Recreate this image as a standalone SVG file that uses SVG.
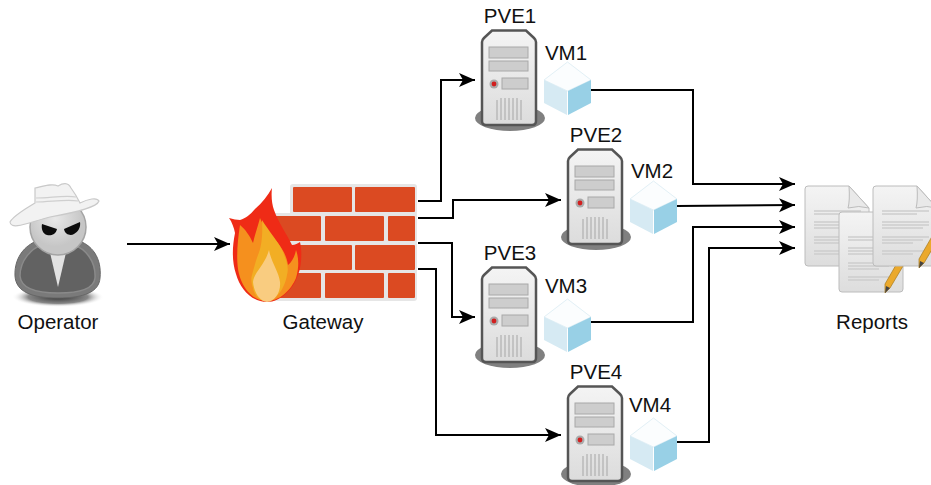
<svg xmlns="http://www.w3.org/2000/svg" xmlns:xlink="http://www.w3.org/1999/xlink" width="931" height="485" viewBox="0 0 931 485">
<style>
text{font-family:"Liberation Sans",Arial,sans-serif;font-size:20.5px;fill:#111;text-anchor:middle}
.c{fill:none;stroke:#000;stroke-width:2;marker-end:url(#ah)}
.b{fill:#db4a22}
.slot{fill:#cdcdcd;stroke:#a8a8a8;stroke-width:1}
.vent{stroke:#b0b0b0;stroke-width:1.200}
.ln{stroke:#cdcdcd;stroke-width:1.300}
.doc{fill:url(#pg);stroke:#bcbcbc;stroke-width:1}
</style>
<defs>
<marker id="ah" markerUnits="userSpaceOnUse" markerWidth="18" markerHeight="16" refX="16" refY="8" orient="auto"><path d="M0 1L16 8L0 15L4 8Z" fill="#000"/></marker>
<linearGradient id="sg" x1="0" y1="0" x2="0" y2="1"><stop offset="0" stop-color="#f4f4f4"/><stop offset="1" stop-color="#dcdcdc"/></linearGradient>
<linearGradient id="pg" x1="0" y1="0" x2="0" y2="1"><stop offset="0" stop-color="#f4f4f4"/><stop offset="1" stop-color="#dddddd"/></linearGradient>
<radialGradient id="shad"><stop offset="0" stop-color="#333"/><stop offset="0.65" stop-color="#888"/><stop offset="1" stop-color="#fff" stop-opacity="0"/></radialGradient>
<radialGradient id="face" cx="0.45" cy="0.35"><stop offset="0" stop-color="#e8e8e8"/><stop offset="1" stop-color="#c6c6c6"/></radialGradient>
<g id="srv">
<ellipse cx="510" cy="118" rx="35" ry="13" fill="#808080"/>
<path d="M482 42Q482 40 484 38L492 30.500H526L534 38Q536 40 536 42V121Q536 125 532 125H486Q482 125 482 121Z" fill="url(#sg)" stroke="#555" stroke-width="2.500"/>
<rect x="489" y="47" width="39" height="11" class="slot"/>
<rect x="489" y="61" width="39" height="10" class="slot"/>
<rect x="502" y="78" width="26" height="11" class="slot"/>
<circle cx="494" cy="84" r="4.500" fill="#aaa"/><circle cx="494" cy="84" r="2.400" fill="#d21f1f"/>
<path class="vent" d="M497 100V120M501 98V120M505 98V120M509 98V120M513 98V120M517 98V120M521 100V120"/>
</g>
<g id="cube">
<path d="M567.500 62L591 80L567.500 91L544 80Z" fill="#fbfdfe" stroke="#e2f0f6"/>
<path d="M544 80L567 91V115L544 103Z" fill="#d6eaf3"/>
<path d="M568 91L591 80V103L568 115Z" fill="#98d0e6"/>
</g>
<g id="page">
<path class="doc" d="M3 0H44L64 22V77Q64 80 61 80H3Q0 80 0 77V3Q0 0 3 0Z"/>
<path d="M44 0Q45 15 43 22Q54 19 64 22Z" fill="#e9e9e9" stroke="#bcbcbc"/>
<path class="ln" d="M9 25H56M9 28H44M9 36H56M9 39H56M9 42H50M9 51H56M9 54H50M9 57H40M9 65H52M9 68H40"/>
</g>
<g id="pencil">
<path d="M0 26L15 0L21 3L5 30L0 35Z" fill="#eba92c" stroke="#a87a1c" stroke-width="0.700"/>
<path d="M0 35L1 28L5 30Z" fill="#444"/>
</g>
</defs>
<g id="connectors">
<path class="c" d="M127 244H230"/>
<path class="c" d="M418 201H441V80H475"/>
<path class="c" d="M418 218H453V200H561"/>
<path class="c" d="M418 243H452V317H475"/>
<path class="c" d="M418 269H436V435H561"/>
<path class="c" d="M591 90H693V184H795"/>
<path class="c" d="M677 206L795 205"/>
<path class="c" d="M591 322H693V227H795"/>
<path class="c" d="M677 442H709V248H795"/>
</g>
<g id="operator">
<ellipse cx="58" cy="297" rx="46" ry="10" fill="url(#shad)"/>
<path d="M15 276C14 255 28 243 40 240L76 240C92 244 102 258 100 278C99 292 84 298 58 298C32 298 16 292 15 276Z" fill="#7a7a7a" stroke="#666" stroke-width="1"/>
<path d="M20 276C20 260 32 248 42 245L74 245C86 249 96 262 95 278C94 288 80 293 58 293C36 293 21 288 20 276Z" fill="#626262" stroke="#8a8a8a" stroke-width="1.500"/>
<path d="M48 244L58 287L68 244Z" fill="#e2e2e2"/>
<circle cx="58" cy="227" r="28" fill="url(#face)" stroke="#a4a4a4" stroke-width="1.500"/>
<path d="M42 224L57 229C56 235 50 236 47 235C43 234 41 229 42 224ZM80 222L64 229C65 235 71 236 74 234C78 232 81 227 80 222Z" fill="#0c0c0c"/>
<path d="M10 222C14 215 27 208 35 203L35 188C44 186 52 183 58 186C63 183 68 182 71 188C74 192 78 199 80 203C88 199 97 197 99 201C97 208 72 213 50 217C30 222 11 231 10 222Z" fill="#f2f2f2" stroke="#c9c9c9" stroke-width="1.200"/>
<path d="M36 198C50 198 65 195 76 197M36 202C50 202 66 199 78 201" fill="none" stroke="#cfcfcf" stroke-width="1.200"/>
<text x="58" y="329">Operator</text>
</g>
<g id="gateway">
<rect x="290" y="184" width="127" height="117" rx="3" fill="#e6e6e6"/>
<rect x="265" y="213" width="30" height="88" fill="#e6e6e6"/>
<rect class="b" x="293" y="187" width="59" height="25" rx="1"/>
<rect class="b" x="355" y="187" width="60" height="25" rx="1"/>
<rect class="b" x="268" y="216" width="53" height="25" rx="1"/>
<rect class="b" x="325" y="216" width="59" height="25" rx="1"/>
<rect class="b" x="388" y="216" width="27" height="25" rx="1"/>
<rect class="b" x="293" y="245" width="59" height="25" rx="1"/>
<rect class="b" x="355" y="245" width="60" height="25" rx="1"/>
<rect class="b" x="268" y="273" width="53" height="25" rx="1"/>
<rect class="b" x="325" y="273" width="59" height="25" rx="1"/>
<rect class="b" x="388" y="273" width="27" height="25" rx="1"/>
<path d="M272 188C271 196 272 205 274 210C278 222 288 236 292 245C295 245 298 243 300 242C302 250 302 265 298 275C293 289 281 302 267 302C252 302 240 289 236 274C232 262 232 248 235 233C234 228 232 222 229 218C233 219 237 220 240 220C246 218 250 215 255 209C262 203 268 195 272 188Z" fill="#ef2b16"/>
<path d="M260 218C264 228 272 236 278 243C284 251 287 258 288 265C292 262 295 256 296 250C299 258 299 268 296 278C291 290 280 301 267 301C253 301 243 289 239 274C236 262 237 244 240 225C245 229 250 236 253 243C255 234 258 226 260 218Z" fill="#f5901e"/>
<path d="M262 220C268 230 280 244 283 252C287 262 289 268 287 275C285 288 276 301 267 301C258 301 254 294 253 288C250 280 252 275 252 275C254 268 256 260 258 255C261 248 263 238 262 220Z" fill="#f2ae24"/>
<path d="M269 250C271 262 279 272 280 282C281 292 275 301 267 302C259 301 254 292 253 282C254 272 265 265 269 250Z" fill="#f9cc80"/>
<text x="323" y="329">Gateway</text>
</g>
<g id="pve1"><use xlink:href="#srv" href="#srv"/><text x="510" y="23">PVE1</text></g>
<g id="vm1"><use xlink:href="#cube" href="#cube"/><text x="566" y="60">VM1</text></g>
<g id="pve2"><use xlink:href="#srv" href="#srv" x="86" y="119"/><text x="596" y="142">PVE2</text></g>
<g id="vm2"><use xlink:href="#cube" href="#cube" x="86" y="119"/><text x="652" y="178">VM2</text></g>
<g id="pve3"><use xlink:href="#srv" href="#srv" y="237"/><text x="510" y="260">PVE3</text></g>
<g id="vm3"><use xlink:href="#cube" href="#cube" y="237"/><text x="566" y="293">VM3</text></g>
<g id="pve4"><use xlink:href="#srv" href="#srv" x="86" y="356"/><text x="596" y="379">PVE4</text></g>
<g id="vm4"><use xlink:href="#cube" href="#cube" x="86" y="356"/><text x="650" y="412">VM4</text></g>
<g id="reports">
<use xlink:href="#page" href="#page" x="805" y="186"/>
<use xlink:href="#page" href="#page" x="839" y="212"/>
<use xlink:href="#pencil" href="#pencil" x="885" y="258"/>
<use xlink:href="#page" href="#page" x="873" y="186"/>
<use xlink:href="#pencil" href="#pencil" x="919" y="233"/>
<text x="872" y="329">Reports</text>
</g>
</svg>
